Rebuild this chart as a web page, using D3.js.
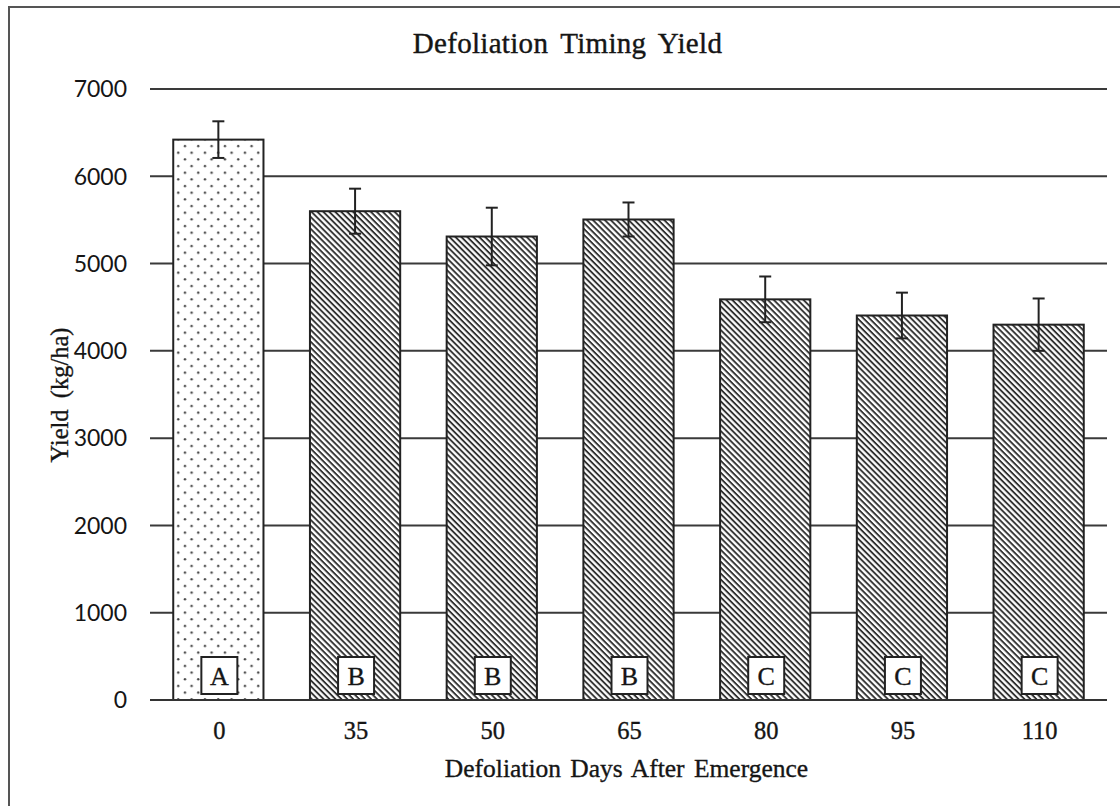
<!DOCTYPE html>
<html><head><meta charset="utf-8">
<script src="https://cdn.jsdelivr.net/npm/d3@7"></script>
<style>body{margin:0;background:#fff;overflow:hidden}</style>
</head><body><svg id="c" width="1120" height="806"></svg>
<script>
const categories = ["0", "35", "50", "65", "80", "95", "110"];
const yieldMeans = [6420, 5600, 5310, 5505, 4590, 4405, 4300];
const yieldErrors = [210, 258, 330, 195, 262, 262, 300];
const groupLetters = ["A", "B", "B", "B", "C", "C", "C"];
const yTicks = [0, 1000, 2000, 3000, 4000, 5000, 6000, 7000];
const patterns = ["dots", "hatch", "hatch", "hatch", "hatch", "hatch", "hatch"];

const svg = d3.select("#c");
const serif = "'Liberation Serif', 'Times New Roman', serif";
const sans = "Lato, 'Open Sans', sans-serif";
const ink = "#151515";

const defs = svg.append("defs");
const dp = defs.append("pattern").attr("id", "dots").attr("patternUnits", "userSpaceOnUse")
  .attr("width", 13.33).attr("height", 13.33).attr("x", 2).attr("y", 3);
dp.append("rect").attr("width", 13.33).attr("height", 13.33).attr("fill", "#fff");
dp.append("circle").attr("cx", 3).attr("cy", 3).attr("r", 1.2).attr("fill", "#444");
dp.append("circle").attr("cx", 9.67).attr("cy", 9.67).attr("r", 1.2).attr("fill", "#444");

const hp = defs.append("pattern").attr("id", "hatch").attr("patternUnits", "userSpaceOnUse")
  .attr("width", 4.2).attr("height", 4.2).attr("patternTransform", "rotate(45)");
hp.append("rect").attr("width", 4.2).attr("height", 4.2).attr("fill", "#fff");
hp.append("rect").attr("width", 4.2).attr("height", 1.9).attr("fill", "#333");

// outer border
svg.append("rect").attr("x", 9).attr("y", 7).attr("width", 1300).attr("height", 1000)
  .attr("fill", "none").attr("stroke", "#555").attr("stroke-width", 2);

const x = d3.scaleBand().domain(categories).range([150, 1107]).paddingInner(0.34).paddingOuter(0.17);
const y = d3.scaleLinear().domain([0, 7000]).range([700, 89]);

// gridlines
svg.append("g").selectAll("line").data(yTicks).join("line")
  .attr("x1", 150).attr("x2", 1107)
  .attr("y1", d => y(d)).attr("y2", d => y(d))
  .attr("stroke", "#3a3a3a").attr("stroke-width", 2);

// y tick labels
svg.append("g").selectAll("text").data(yTicks).join("text")
  .attr("x", 127).attr("y", d => y(d)).attr("dy", "0.36em")
  .attr("text-anchor", "end").attr("font-family", sans).attr("font-size", 23)
  .attr("fill", ink).text(d => d);

// bars
const idx = d3.range(categories.length);
svg.append("g").selectAll("rect").data(idx).join("rect")
  .attr("x", i => x(categories[i])).attr("width", x.bandwidth())
  .attr("y", i => y(yieldMeans[i])).attr("height", i => y(0) - y(yieldMeans[i]))
  .attr("fill", i => `url(#${patterns[i]})`)
  .attr("stroke", "#222").attr("stroke-width", 2);

// baseline
svg.append("line").attr("x1", 150).attr("x2", 1107).attr("y1", y(0)).attr("y2", y(0))
  .attr("stroke", "#333").attr("stroke-width", 2);

// error bars
const eb = svg.append("g").attr("stroke", "#222").attr("stroke-width", 2);
idx.forEach(i => {
  const cx = x(categories[i]) + x.bandwidth() / 2;
  const t = y(yieldMeans[i] + yieldErrors[i]), b = y(yieldMeans[i] - yieldErrors[i]);
  eb.append("line").attr("x1", cx).attr("x2", cx).attr("y1", t).attr("y2", b);
  eb.append("line").attr("x1", cx - 6).attr("x2", cx + 6).attr("y1", t).attr("y2", t);
  eb.append("line").attr("x1", cx - 6).attr("x2", cx + 6).attr("y1", b).attr("y2", b);
});

// letter boxes
const lb = svg.append("g");
idx.forEach(i => {
  const cx = x(categories[i]) + x.bandwidth() / 2 + 1;
  lb.append("rect").attr("x", cx - 18).attr("y", y(0) - 43).attr("width", 36).attr("height", 37)
    .attr("fill", "#fff").attr("stroke", "#222").attr("stroke-width", 2);
  lb.append("text").attr("x", cx).attr("y", y(0) - 15.5).attr("text-anchor", "middle")
    .attr("font-family", serif).attr("font-size", 26).attr("fill", ink)
    .attr("stroke", ink).attr("stroke-width", 0.35).text(groupLetters[i]);
});

// x tick labels
svg.append("g").selectAll("text").data(categories).join("text")
  .attr("x", d => x(d) + x.bandwidth() / 2 + 1).attr("y", 739)
  .attr("text-anchor", "middle").attr("font-family", serif).attr("font-size", 24.5)
  .attr("fill", ink).attr("stroke", ink).attr("stroke-width", 0.35).text(d => d);

// titles
svg.append("text").attr("x", 567.5).attr("y", 53).attr("text-anchor", "middle")
  .attr("font-family", serif).attr("font-size", 29).attr("letter-spacing", 0.3).attr("word-spacing", 5)
  .attr("fill", ink).attr("stroke", ink).attr("stroke-width", 0.4).text("Defoliation Timing Yield");
svg.append("text").attr("x", 626.5).attr("y", 777).attr("text-anchor", "middle")
  .attr("font-family", serif).attr("font-size", 25.5).attr("word-spacing", 3)
  .attr("fill", ink).attr("stroke", ink).attr("stroke-width", 0.35).text("Defoliation Days After Emergence");
svg.append("text").attr("transform", "translate(68,395) rotate(-90)").attr("text-anchor", "middle")
  .attr("font-family", serif).attr("font-size", 24.5).attr("word-spacing", 5)
  .attr("fill", ink).attr("stroke", ink).attr("stroke-width", 0.35).text("Yield (kg/ha)");
</script></body></html>
